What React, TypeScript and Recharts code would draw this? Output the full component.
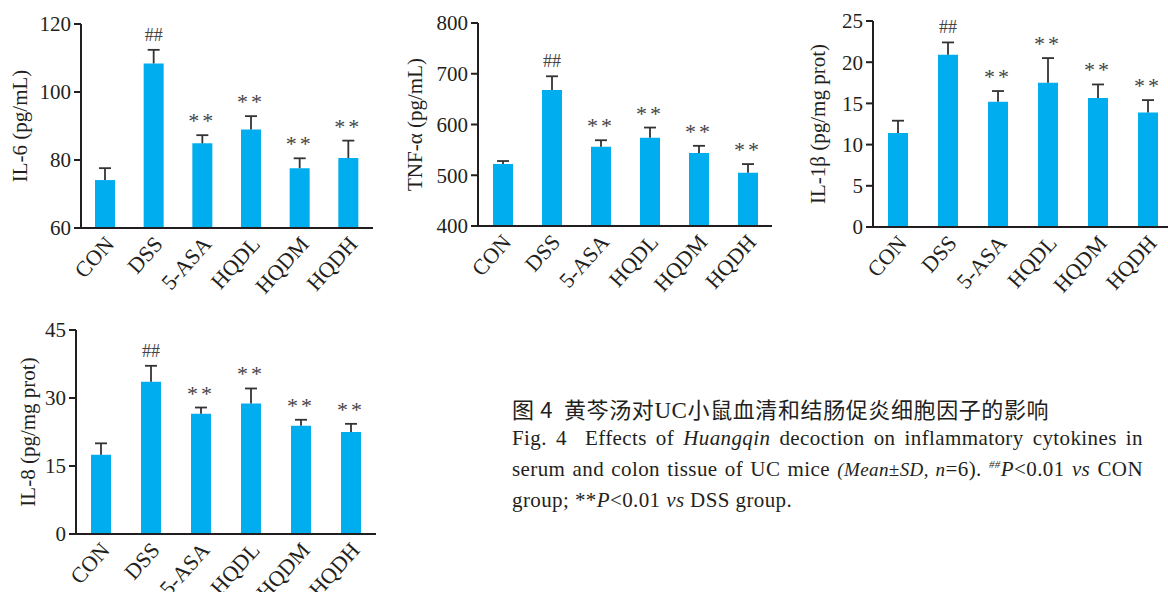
import React from 'react'
import { BarChart, Bar, XAxis, YAxis, LabelList } from 'recharts'

const groups = ['CON', 'DSS', '5-ASA', 'HQDL', 'HQDM', 'HQDH']
const marks = ['', '##', '**', '**', '**', '**']

const il6Mean = [74.1, 108.4, 84.9, 89.0, 77.6, 80.6]
const il6Sd = [3.5, 4.0, 2.4, 3.9, 2.9, 5.1]
const il6Ticks = [60, 80, 100, 120]

const tnfMean = [522, 668, 556, 574, 544, 505]
const tnfSd = [6, 27, 13, 20, 14, 17]
const tnfTicks = [400, 500, 600, 700, 800]

const il1bMean = [11.4, 20.9, 15.2, 17.5, 15.65, 13.9]
const il1bSd = [1.5, 1.5, 1.3, 3.0, 1.65, 1.5]
const il1bTicks = [0, 5, 10, 15, 20, 25]

const il8Mean = [17.5, 33.6, 26.5, 28.8, 23.9, 22.5]
const il8Sd = [2.5, 3.5, 1.4, 3.3, 1.3, 1.8]
const il8Ticks = [0, 15, 30, 45]

const INK = '#231f20'
const BLUE = '#00aeef'
const SERIF = '"Liberation Serif", "Times New Roman", serif'

function buildRows(mean: number[], sd: number[]) {
  return groups.map((g, i) => ({ name: g, mean: mean[i], sd: sd[i], mark: marks[i] }))
}

type PanelProps = {
  left: number
  top: number
  width: number
  height: number
  mean: number[]
  sd: number[]
  ticks: number[]
  label: string
  labelX: number
  mTop: number
  mRight: number
  yWidth: number
  xHeight: number
}

function GroupTick(props: any) {
  const { x, y, payload } = props
  const ax = x + 10
  const ay = y + 9
  return (
    <text
      x={ax}
      y={ay}
      transform={`rotate(-48, ${ax}, ${ay})`}
      textAnchor="end"
      fontFamily={SERIF}
      fontSize={22}
      fill={INK}
    >
      {payload.value}
    </text>
  )
}

function Panel(p: PanelProps) {
  const rows = buildRows(p.mean, p.sd)
  const lo = p.ticks[0]
  const hi = p.ticks[p.ticks.length - 1]

  // whisker (mean -> mean+sd) and significance mark, scaled off the bar the library drew
  const whisker = (lp: any) => {
    const { x, y, width, height, index } = lp
    const row = rows[index]
    if (!row || !height) return null
    const ppu = height / (row.mean - lo)
    const cx = x + width / 2
    const ty = y - row.sd * ppu
    const hash = row.mark === '##'
    return (
      <g>
        <line x1={cx} y1={y} x2={cx} y2={ty} stroke="#333" strokeWidth={1.8} />
        <line x1={cx - 6} y1={ty} x2={cx + 6} y2={ty} stroke="#333" strokeWidth={1.8} />
        {row.mark && (
          <text
            x={cx}
            y={hash ? ty - 9 : ty - 7}
            textAnchor="middle"
            fontFamily={SERIF}
            fontSize={hash ? 18 : 22}
            letterSpacing={hash ? 0 : 3}
            fill="#444"
          >
            {row.mark}
          </text>
        )}
      </g>
    )
  }

  return (
    <div style={{ position: 'absolute', left: p.left, top: p.top }}>
      <BarChart
        width={p.width}
        height={p.height}
        data={rows}
        margin={{ top: p.mTop, right: p.mRight, left: 0, bottom: 0 }}
      >
        <XAxis
          dataKey="name"
          interval={0}
          height={p.xHeight}
          tickLine={false}
          axisLine={{ stroke: INK, strokeWidth: 2 }}
          tick={<GroupTick />}
        />
        <YAxis
          width={p.yWidth}
          domain={[lo, hi]}
          ticks={p.ticks}
          interval={0}
          tickSize={7}
          tickMargin={3}
          axisLine={{ stroke: INK, strokeWidth: 2 }}
          tickLine={{ stroke: INK, strokeWidth: 2 }}
          tick={{ fill: INK, fontSize: 21, fontFamily: SERIF }}
          label={{
            content: ({ viewBox }: any) => {
              const cy = viewBox.y + viewBox.height / 2
              return (
                <text
                  x={p.labelX}
                  y={cy}
                  transform={`rotate(-90, ${p.labelX}, ${cy})`}
                  textAnchor="middle"
                  dominantBaseline="central"
                  fontFamily={SERIF}
                  fontSize={21}
                  fill={INK}
                >
                  {p.label}
                </text>
              )
            },
          }}
        />
        <Bar dataKey="mean" fill={BLUE} barSize={20} isAnimationActive={false}>
          <LabelList dataKey="sd" content={whisker} />
        </Bar>
      </BarChart>
    </div>
  )
}

const lineStyle: React.CSSProperties = {
  fontFamily: '"Liberation Serif", serif',
  fontSize: 21,
  letterSpacing: 0.4,
  color: INK,
  height: 31,
  lineHeight: '31px',
  whiteSpace: 'nowrap',
}

export default function App() {
  return (
    <div
      style={{
        position: 'absolute',
        left: 0,
        top: 0,
        width: 1168,
        height: 592,
        overflow: 'hidden',
        background: '#fff',
      }}
    >
      <Panel left={0} top={0} width={390} height={300} mean={il6Mean} sd={il6Sd}
        ticks={il6Ticks} label="IL-6 (pg/mL)" labelX={20}
        mTop={24} mRight={17} yWidth={81} xHeight={72} />
      <Panel left={390} top={0} width={400} height={300} mean={tnfMean} sd={tnfSd}
        ticks={tnfTicks} label="TNF-α (pg/mL)" labelX={25}
        mTop={23} mRight={18} yWidth={88} xHeight={74} />
      <Panel left={790} top={0} width={400} height={300} mean={il1bMean} sd={il1bSd}
        ticks={il1bTicks} label="IL-1β (pg/mg prot)" labelX={28}
        mTop={21} mRight={17} yWidth={83} xHeight={73} />
      <Panel left={0} top={300} width={400} height={310} mean={il8Mean} sd={il8Sd}
        ticks={il8Ticks} label="IL-8 (pg/mg prot)" labelX={28}
        mTop={30} mRight={24} yWidth={76} xHeight={76} />

      <div style={{ position: 'absolute', left: 512, top: 393, width: 631 }}>
        <div
          style={{
            fontFamily: '"Noto Sans CJK SC", sans-serif',
            fontSize: 22,
            fontWeight: 400,
            letterSpacing: 0.6,
            color: INK,
            height: 30,
            lineHeight: '30px',
            whiteSpace: 'nowrap',
          }}
        >
          图 4&nbsp; 黄芩汤对<span style={{ fontFamily: SERIF, fontSize: 23 }}>UC</span>小鼠血清和结肠促炎细胞因子的影响
        </div>
        <div style={{ ...lineStyle, textAlign: 'justify', textAlignLast: 'justify' }}>
          Fig. 4&nbsp; Effects of <i>Huangqin</i> decoction on inflammatory cytokines in
        </div>
        <div style={{ ...lineStyle, textAlign: 'justify', textAlignLast: 'justify' }}>
          serum and colon tissue of UC mice <i style={{ fontSize: 19 }}>(Mean±SD, n</i>=6).{' '}
          <span style={{ fontSize: 11, fontStyle: 'italic', position: 'relative', top: -8 }}>##</span>
          <i>P</i>&lt;0.01 <i>vs</i> CON
        </div>
        <div style={lineStyle}>
          group; **<i>P</i>&lt;0.01 <i>vs</i> DSS group.
        </div>
      </div>
    </div>
  )
}
